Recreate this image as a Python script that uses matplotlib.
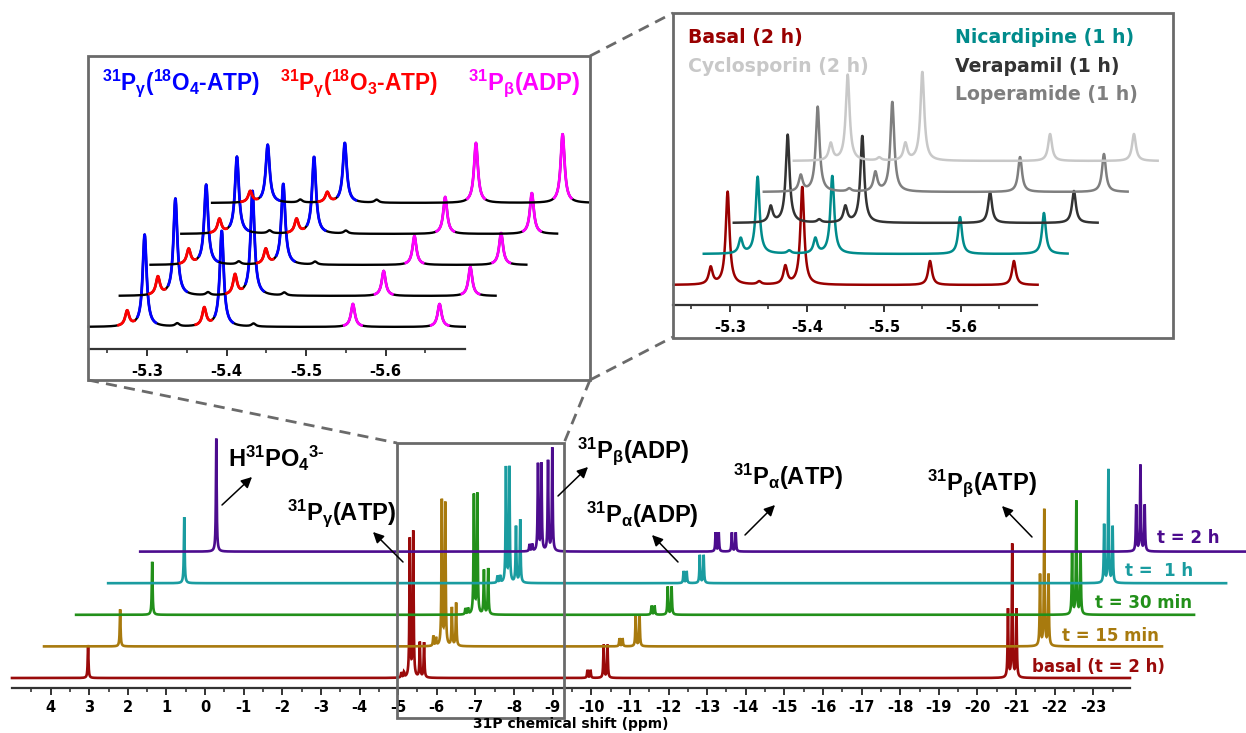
import numpy as np
import matplotlib
matplotlib.use("Agg")
import matplotlib.pyplot as plt
from matplotlib.patches import Rectangle

plt.rcParams["axes.unicode_minus"] = False

W, H = 1246, 733

# ---- main spectra (time series) ----
trace_labels = ["basal (t = 2 h)", "t = 15 min", "t = 30 min", "t =  1 h", "t = 2 h"]
trace_colors = ["#9a0a0a", "#a87a0e", "#22901a", "#1a9ca0", "#4c0c8e"]
peak_ppm = [3.03, -5.08, -5.15, -5.30, -5.39, -5.56, -5.67,
            -9.90, -9.98, -10.32, -10.42, -20.79, -20.90, -21.01]
peak_heights = [
    [33, 5, 5, 138, 145, 35, 35, 8, 8, 33, 33, 68, 133, 68],
    [37, 10, 8, 145, 142, 38, 43, 8, 8, 31, 31, 71, 136, 71],
    [53, 6, 6, 119, 120, 44, 46, 9, 9, 28, 28, 61, 113, 61],
    [66, 7, 7, 115, 115, 56, 63, 12, 12, 28, 28, 58, 113, 56],
    [113, 7, 7, 87, 87, 90, 103, 19, 19, 19, 19, 46, 86, 46],
]

# ---- left inset (18O labelled ATP) ----
inset_ppm = [-5.275, -5.297, -5.372, -5.394, -5.559, -5.668, -5.338, -5.434]
inset_kind = ["r", "b", "r", "b", "m", "m", "k", "k"]
inset_heights = [
    [15, 92, 18, 96, 23, 23, 3, 3],
    [18, 97, 20, 105, 25, 29, 3, 3],
    [15, 80, 15, 81, 29, 32, 3, 3],
    [14, 77, 14, 77, 37, 41, 3, 3],
    [11, 58, 10, 60, 60, 69, 3, 3],
]

# ---- right inset (inhibitors) ----
drug_labels = ["Basal (2 h)", "Nicardipine (1 h)", "Verapamil (1 h)",
               "Loperamide (1 h)", "Cyclosporin (2 h)"]
drug_colors = ["#990000", "#008b8b", "#333333", "#7f7f7f", "#c8c8c8"]
drug_ppm = [-5.275, -5.297, -5.372, -5.394, -5.560, -5.669, -5.338]
drug_heights = [
    [17, 93, 18, 98, 24, 24, 3],
    [15, 77, 15, 78, 37, 41, 3],
    [16, 88, 16, 87, 31, 32, 3],
    [16, 85, 19, 90, 35, 38, 3],
    [17, 86, 17, 89, 27, 27, 3],
]


def spectrum(x, centers, heights, hw):
    y = np.zeros_like(x)
    for c, h in zip(centers, heights):
        y += h / (1 + ((x - c) / hw) ** 2)
    return y


def px_axes(fig, x0, x1, ybot, ytop):
    return fig.add_axes([x0 / W, 1 - ybot / H, (x1 - x0) / W, (ybot - ytop) / H])


def style_axis(ax, fs, pad):
    for s in ["left", "top", "right"]:
        ax.spines[s].set_visible(False)
    ax.spines["bottom"].set_color("#333333")
    ax.spines["bottom"].set_linewidth(1.6)
    ax.set_yticks([])
    ax.patch.set_alpha(0)
    ax.tick_params(axis="x", which="major", direction="out", length=5, width=1.4,
                   color="#333333", pad=pad, labelsize=fs)
    ax.tick_params(axis="x", which="minor", direction="out", length=3, width=1.2,
                   color="#333333")
    for lab in ax.get_xticklabels():
        lab.set_fontweight("bold")


fig = plt.figure(figsize=(W / 100, H / 100), dpi=100)

# main axes
ax = px_axes(fig, 12, 1130, 688, 430)
ax.set_xlim(5.0, -23.95)
ax.set_ylim(0, 258)
x_main = np.arange(5.0, -23.95, -0.002)
for i in range(len(trace_labels)):
    y = spectrum(x_main, peak_ppm, peak_heights[i], 0.012)
    ax.plot(x_main - i * 0.83, y + 10 + 31.6 * i, color=trace_colors[i], lw=1.9,
            clip_on=False, solid_joinstyle="miter")
ax.set_xticks(np.arange(4, -24, -1))
ax.set_xticks(np.arange(4.5, -24, -0.5), minor=True)
ax.set_xticklabels([str(v) for v in range(4, -24, -1)])
style_axis(ax, 10.5, 4)

# left inset
axl = px_axes(fig, 89, 465, 349, 100)
axl.set_xlim(-5.227, -5.70)
axl.set_ylim(0, 249)
x_in = np.arange(-5.227, -5.70, -0.0004)
kind_color = {"r": "#ff0000", "b": "#0000ff", "m": "#ff00ff"}
kind_win = {"r": (0.011, 0.009), "b": (0.009, 0.014), "m": (0.011, 0.011)}
for i in range(len(inset_heights)):
    dx = i * 0.0387
    y = spectrum(x_in, inset_ppm, inset_heights[i], 0.003) + 22 + 31 * i
    axl.plot(x_in - dx, y, color="black", lw=1.7, clip_on=False)
    for c, k in zip(inset_ppm, inset_kind):
        if k == "k":
            continue
        lo, hi = kind_win[k]
        m = (x_in <= c + lo) & (x_in >= c - hi)
        axl.plot(x_in[m] - dx, y[m], color=kind_color[k], lw=2.0, clip_on=False)
axl.set_xticks([-5.3, -5.4, -5.5, -5.6])
axl.set_xticks([-5.25, -5.35, -5.45, -5.55, -5.65], minor=True)
style_axis(axl, 10.5, 6)

# right inset
axr = px_axes(fig, 673, 1037, 305, 60)
axr.set_xlim(-5.226, -5.699)
axr.set_ylim(0, 245)
for i in range(len(drug_labels)):
    y = spectrum(x_in, drug_ppm, drug_heights[i], 0.003) + 20 + 31 * i
    axr.plot(x_in - i * 0.039, y, color=drug_colors[i], lw=1.8, clip_on=False)
axr.set_xticks([-5.3, -5.4, -5.5, -5.6])
axr.set_xticks([-5.25, -5.35, -5.45, -5.55, -5.65], minor=True)
style_axis(axr, 10.5, 6)

# overlay for boxes, connectors, labels
ov = fig.add_axes([0, 0, 1, 1], zorder=10)
ov.set_xlim(0, W)
ov.set_ylim(H, 0)
ov.axis("off")
ov.patch.set_alpha(0)
gray = "#6a6a6a"
for (x0, y0, x1, y1) in [(88, 56, 590, 380), (673, 13, 1173, 338), (397, 443, 564, 718)]:
    ov.add_patch(Rectangle((x0, y0), x1 - x0, y1 - y0, fill=False, ec=gray, lw=2.0))
for (xa, ya, xb, yb) in [(590, 56, 673, 13), (590, 380, 673, 337),
                         (590, 380, 564, 443), (88, 380, 397, 443)]:
    ov.plot([xa, xb], [ya, yb], color=gray, lw=2.0, ls=(0, (4, 2.6)))

# peak annotations
ann_font = dict(family="Liberation Sans", weight="bold", size=17)
annots = [
    (r"$\mathregular{H^{31}PO_{4}{}^{3‐}}$", 228, 467, (222, 505), (252, 477)),
    (r"$\mathregular{^{31}P_{\gamma}(ATP)}$", 287, 520, (403, 562), (373, 532)),
    (r"$\mathregular{^{31}P_{\beta}(ADP)}$", 577, 458, (558, 496), (588, 467)),
    (r"$\mathregular{^{31}P_{\alpha}(ADP)}$", 586, 523, (678, 562), (652, 535)),
    (r"$\mathregular{^{31}P_{\alpha}(ATP)}$", 733, 485, (745, 535), (775, 505)),
    (r"$\mathregular{^{31}P_{\beta}(ATP)}$", 927, 490, (1032, 537), (1002, 506)),
]
for s, tx, ty, tail, head in annots:
    ov.text(tx, ty, s, ha="left", va="baseline", color="black", **ann_font)
    ov.annotate("", xy=head, xytext=tail,
                arrowprops=dict(arrowstyle="-|>", color="black", lw=1.1,
                                mutation_scale=16, shrinkA=0, shrinkB=0))

# time labels
time_pos = [(1032, 672), (1062, 641), (1095, 608), (1125, 576), (1157, 543)]
for lab, col, (tx, ty) in zip(trace_labels, trace_colors, time_pos):
    ov.text(tx, ty, lab, color=col, fontsize=12, fontweight="bold",
            ha="left", va="baseline")

# left inset legend
leg_font = dict(family="Liberation Sans", weight="bold", size=16.3)
ov.text(102, 90, r"$\mathregular{^{31}P_{\gamma}(^{18}O_{4}‐ATP)}$", color="#0000ff",
        ha="left", va="baseline", **leg_font)
ov.text(280, 90, r"$\mathregular{^{31}P_{\gamma}(^{18}O_{3}‐ATP)}$", color="#ff0000",
        ha="left", va="baseline", **leg_font)
ov.text(468, 90, r"$\mathregular{^{31}P_{\beta}(ADP)}$", color="#ff00ff",
        ha="left", va="baseline", **ann_font)

# right inset legend
drug_pos = [(688, 43), (955, 43), (955, 72), (955, 100), (688, 72)]
for lab, col, (tx, ty) in zip(drug_labels, drug_colors, drug_pos):
    ov.text(tx, ty, lab, color=col, fontsize=13.6, fontweight="bold",
            ha="left", va="baseline")

ov.text(571, 724, "31P chemical shift (ppm)", fontsize=10, fontweight="bold",
        ha="center", va="center")

fig.savefig("out.png", dpi=100)
